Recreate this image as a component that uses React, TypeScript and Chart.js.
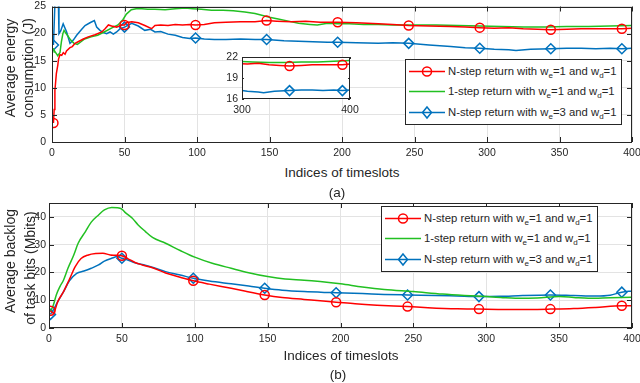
import React, { useEffect, useRef } from "react";
import { Chart, registerables } from "chart.js";
Chart.register(...registerables);

// ---------- data ----------
const MARKER_X = [1, 50, 99, 148, 197, 246, 295, 344, 393];

const xTicksMain = [0, 50, 100, 150, 200, 250, 300, 350, 400];
const yTicksTop = [0, 5, 10, 15, 20, 25];
const yTicksInset = [16, 19, 22];
const xTicksInset = [300, 400];
const yTicksBottom = [0, 10, 20, 30, 40];
const yRangeBottom = [0, 45];

const energyRed = [[1,3.5],[1.5,6.0],[2,9.5],[3,12.6],[4,14.2],[4.5,15.3],[5.5,16.1],[6.7,16.0],[7.8,16.5],[9,16.2],[10,16.8],[12.4,17.4],[14,17.6],[15.9,18.2],[18,18.5],[21.6,19.0],[25,19.4],[29.7,19.8],[34.3,20.3],[36.6,20.9],[38.9,21.6],[41.1,21.4],[44.6,21.2],[48,21.6],[50,21.6],[51.3,22.0],[55,22.2],[59.5,22.0],[64,21.5],[68.7,20.9],[71,21.5],[75,21.6],[80,21.5],[85,21.7],[90,21.6],[95,21.7],[99,21.6],[105,21.7],[112,22.0],[120,22.1],[130,22.2],[140,22.2],[148,22.4],[155,22.3],[165,22.2],[175,22.3],[185,22.1],[197,22.1],[210,22.0],[225,21.8],[235,21.7],[246,21.5],[260,21.4],[275,21.3],[285,21.2],[295,21.1],[305,21.0],[315,21.1],[325,20.9],[335,20.8],[344,20.7],[355,20.8],[365,20.9],[375,20.9],[385,20.9],[393,20.9],[400,21.0]];

const energyGreen = [[1,17.3],[1.5,16.6],[2,16.7],[3,16.3],[4,15.9],[4.4,16.1],[5.5,16.5],[6.5,18.5],[7.5,20.0],[8.3,20.6],[9.5,20.1],[10.6,19.7],[12.9,18.8],[15.2,18.2],[17.5,18.0],[20,18.5],[22.5,19.0],[27,19.4],[31.5,19.7],[36,20.3],[41,21.0],[45.5,21.6],[49,22.6],[51.3,23.6],[54.7,24.4],[58,24.6],[62,24.6],[66,24.5],[71,24.5],[78,24.4],[85,24.6],[92,24.7],[97,24.6],[103,24.5],[110,24.3],[118,24.3],[125,24.2],[133,24.0],[140,23.7],[146,23.3],[150,23.0],[156,22.7],[163,22.3],[170,21.9],[178,21.7],[183,21.6],[190,21.9],[197,21.8],[205,21.8],[215,21.7],[225,21.7],[235,21.6],[250,21.6],[265,21.6],[280,21.5],[295,21.4],[310,21.3],[325,21.2],[340,21.2],[355,21.3],[370,21.3],[385,21.4],[400,21.5]];

const energyBlue = [[1,17.9],[2,25.5],[3,27],[4.4,26],[4.8,20.0],[6,20.5],[7.7,21.8],[10.1,20.3],[12.4,18.2],[14.7,18.8],[17,19.7],[20.5,20.8],[22.8,21.5],[26.2,22.0],[29.2,22.4],[30.8,21.2],[33.1,20.6],[35.4,20.2],[37.7,20.0],[40,20.3],[42.3,19.9],[44.6,20.3],[47,20.9],[50,21.2],[55,21.9],[59.5,21.4],[64,20.6],[68,20.8],[71,20.3],[75,20.4],[80,19.9],[85,19.7],[90,19.3],[95,19.1],[99,19.2],[105,19.0],[112,18.9],[120,18.9],[130,19.0],[140,18.9],[148,18.9],[160,18.7],[170,18.6],[180,18.5],[190,18.4],[197,18.4],[210,18.3],[225,18.2],[235,18.3],[246,18.2],[260,17.9],[275,17.6],[285,17.4],[295,17.3],[305,17.1],[315,17.0],[320,16.9],[330,17.1],[344,17.2],[355,17.3],[365,17.3],[375,17.2],[385,17.3],[393,17.2],[400,17.3]];

const backlogRed = [[1,6.2],[3,5.3],[6,9.5],[10,13.1],[14,17.5],[18,22.1],[22,25.0],[27,26.3],[32,26.8],[37,26.9],[42,26.3],[46,26.2],[50,26.0],[54,25.0],[59,23.6],[64,22.7],[71,21.7],[80,19.8],[90,18.3],[99,17.0],[110,15.8],[125,14.3],[135,13.2],[148,11.9],[160,11.0],[175,10.3],[190,9.6],[197,9.3],[210,8.7],[225,8.2],[246,7.7],[260,7.3],[280,6.9],[295,6.8],[310,6.7],[330,6.7],[344,6.8],[360,7.0],[375,7.4],[393,8.0],[400,8.0]];

const backlogGreen = [[1,5.9],[3,8.3],[5,11.9],[7.5,14.9],[10,17.3],[13,21.5],[17,26.3],[20,30.5],[25,34.7],[29,38.1],[34,40.7],[38,42.5],[43,43.4],[47,43.3],[50,42.8],[52,41.7],[57,39.6],[61,37.2],[66,34.8],[71,32.6],[80,30.5],[90,27.9],[100,25.5],[112,23.3],[125,21.5],[137,19.9],[150,18.5],[162,17.6],[175,17.2],[186,16.7],[200,15.9],[215,14.8],[230,13.9],[250,13.1],[270,12.2],[285,11.7],[300,11.3],[310,11.0],[320,10.7],[335,10.8],[350,11.3],[360,11.0],[370,10.7],[385,10.9],[400,11.1]];

const backlogBlue = [[1,4.9],[3,6.5],[6,9.5],[10,13.1],[14,17.0],[19,19.7],[24,20.5],[29,21.5],[34,22.7],[38,24.1],[43,25.1],[47,25.7],[50,25.1],[54,24.5],[59,23.5],[66,22.6],[72,21.7],[80,20.3],[90,19.1],[99,17.9],[110,16.9],[125,15.9],[137,15.1],[148,14.3],[160,13.6],[175,13.1],[190,12.8],[197,12.7],[215,12.4],[230,12.1],[246,11.9],[265,11.7],[280,11.5],[295,11.3],[310,11.4],[325,11.7],[344,11.9],[360,11.7],[375,11.5],[385,11.8],[393,12.9],[400,13.3]];

const legendPrefix = ["N-step return with ", "1-step return with ", "N-step return with "];
const legendWe = ["1", "1", "3"];
const legendWd = ["1", "1", "1"];

// ---------- styles ----------
const FONT = "'Liberation Sans', Arial, Helvetica, sans-serif";
const AX = "#262626";
const GRID = "#e3e3e3";
const RED = "#ff0000";
const GREEN = "#22c022";
const BLUE = "#0072bd";
const COLORS = [RED, GREEN, BLUE];
const MARKERS = ["circle", "", "rectRot"];

const boxPlugin = {
  id: "mbox",
  beforeDraw(chart: any, _a: any, opts: any) {
    if (!opts || !opts.fill) return;
    const { ctx, chartArea: a } = chart;
    ctx.save();
    ctx.fillStyle = "#fff";
    ctx.fillRect(a.left, a.top, a.right - a.left, a.bottom - a.top);
    ctx.restore();
  },
  afterDatasetsDraw(chart: any, _a: any, opts: any) {
    const { ctx, chartArea: a } = chart;
    const len = (opts && opts.tick) || 5;
    const xs = chart.scales.x;
    const ys = chart.scales.y;
    ctx.save();
    ctx.strokeStyle = AX;
    ctx.lineWidth = 1;
    ctx.beginPath();
    xs.ticks.forEach((t: any) => {
      const p = Math.round(xs.getPixelForValue(t.value)) + 0.5;
      ctx.moveTo(p, a.bottom);
      ctx.lineTo(p, a.bottom - len);
      ctx.moveTo(p, a.top);
      ctx.lineTo(p, a.top + len);
    });
    ys.ticks.forEach((t: any) => {
      const p = Math.round(ys.getPixelForValue(t.value)) + 0.5;
      ctx.moveTo(a.left, p);
      ctx.lineTo(a.left + len, p);
      ctx.moveTo(a.right, p);
      ctx.lineTo(a.right - len, p);
    });
    ctx.stroke();
    ctx.strokeRect(Math.round(a.left) + 0.5, Math.round(a.top) + 0.5, Math.round(a.right - a.left) - 1, Math.round(a.bottom - a.top) - 1);
    ctx.restore();
  },
};

function ds(label: string, data: number[][], idx: number, smooth: boolean) {
  const marker = MARKERS[idx];
  const color = COLORS[idx];
  return {
    label,
    data: data.map(([x, y]) => ({ x, y })),
    borderColor: color,
    borderWidth: 1.5,
    tension: smooth ? 0.3 : 0,
    cubicInterpolationMode: smooth ? "monotone" : "default",
    pointStyle: marker || "circle",
    pointRadius: (c: any) => (marker && c.raw && MARKER_X.includes(c.raw.x) ? (marker === "rectRot" ? 5 : 4.5) : 0),
    pointHoverRadius: 0,
    pointBorderColor: color,
    pointBackgroundColor: "rgba(0,0,0,0)",
    pointBorderWidth: 1.5,
    fill: false,
  };
}

function makeAxis(range: number[], ticks: number[], size: number, padding: number, grid: boolean, fit: (s: any) => void) {
  return {
    type: "linear",
    min: range[0],
    max: range[1],
    ticks: { color: AX, font: { family: FONT, size }, padding, maxRotation: 0, autoSkip: false },
    grid: { display: grid, color: GRID, drawTicks: false, lineWidth: 1 },
    border: { display: false },
    afterBuildTicks(s: any) {
      s.ticks = ticks.map((v) => ({ value: v }));
    },
    afterFit: fit,
  };
}

function makeConfig(opts: {
  sets: any[];
  xRange: number[];
  xTicks: number[];
  yRange: number[];
  yTicks: number[];
  yWidth: number;
  xHeight: number;
  padding: any;
  grid: boolean;
  fill: boolean;
  tickLen: number;
  xPad: number;
  yPad: number;
}) {
  const o = opts;
  return {
    type: "line",
    data: { datasets: o.sets },
    plugins: [boxPlugin],
    options: {
      responsive: false,
      animation: false,
      events: [],
      layout: { padding: o.padding },
      plugins: {
        legend: { display: false },
        tooltip: { enabled: false },
        mbox: { fill: o.fill, tick: o.tickLen },
      },
      scales: {
        x: makeAxis(o.xRange, o.xTicks, 10.5, o.xPad, o.grid, (s: any) => {
          s.height = o.xHeight;
          s.paddingLeft = 0;
          s.paddingRight = 0;
        }),
        y: makeAxis(o.yRange, o.yTicks, 10.5, o.yPad, o.grid, (s: any) => {
          s.width = o.yWidth;
          s.paddingTop = 0;
          s.paddingBottom = 0;
        }),
      },
    },
  } as any;
}

function energySets() {
  return [
    ds("N-step return with we=1 and wd=1", energyRed, 0, false),
    ds("1-step return with we=1 and wd=1", energyGreen, 1, false),
    ds("N-step return with we=3 and wd=1", energyBlue, 2, false),
  ];
}

function backlogSets() {
  return [
    ds("N-step return with we=1 and wd=1", backlogRed, 0, true),
    ds("1-step return with we=1 and wd=1", backlogGreen, 1, true),
    ds("N-step return with we=3 and wd=1", backlogBlue, 2, true),
  ];
}

const subStyle: React.CSSProperties = { fontSize: 8, verticalAlign: "baseline", position: "relative", top: 3 };

function LegendBox({ left, top }: { left: number; top: number }) {
  return (
    <div
      style={{
        position: "absolute",
        left,
        top,
        width: 217,
        height: 66,
        border: `1px solid ${AX}`,
        background: "#fff",
        boxSizing: "border-box",
        fontFamily: FONT,
        fontSize: 11.3,
        color: AX,
      }}
    >
      {legendPrefix.map((p, i) => (
        <div key={i} style={{ position: "absolute", left: 0, top: 0.5 + i * 20.8, width: "100%", height: 21 }}>
          <svg width={40} height={21} style={{ position: "absolute", left: 3, top: 0 }}>
            <line x1={0} y1={10.5} x2={36} y2={10.5} stroke={COLORS[i]} strokeWidth={1.5} />
            {MARKERS[i] === "circle" && (
              <circle cx={18} cy={10.5} r={4.5} fill="none" stroke={COLORS[i]} strokeWidth={1.5} />
            )}
            {MARKERS[i] === "rectRot" && (
              <polygon points="18,5 22.5,10.5 18,16 13.5,10.5" fill="none" stroke={COLORS[i]} strokeWidth={1.5} />
            )}
          </svg>
          <span style={{ position: "absolute", left: 42, top: 0, lineHeight: "20px", whiteSpace: "nowrap" }}>
            {p}w<sub style={subStyle}>e</sub>={legendWe[i]} and w<sub style={subStyle}>d</sub>={legendWd[i]}
          </span>
        </div>
      ))}
    </div>
  );
}

function Label({ x, y, text, rotate, size }: { x: number; y: number; text: string; rotate?: boolean; size?: number }) {
  return (
    <div
      style={{
        position: "absolute",
        left: x,
        top: y,
        transform: `translate(-50%,-50%)${rotate ? " rotate(-90deg)" : ""}`,
        whiteSpace: "nowrap",
        fontFamily: FONT,
        fontSize: size || 13.5,
        color: AX,
        lineHeight: 1,
      }}
    >
      {text}
    </div>
  );
}

export default function App() {
  const topRef = useRef<HTMLCanvasElement>(null);
  const insetRef = useRef<HTMLCanvasElement>(null);
  const botRef = useRef<HTMLCanvasElement>(null);

  useEffect(() => {
    const charts = [
      new Chart(
        topRef.current as HTMLCanvasElement,
        makeConfig({
          sets: energySets(),
          xRange: [0, 400],
          xTicks: xTicksMain,
          yRange: [0, 25],
          yTicks: yTicksTop,
          yWidth: 52,
          xHeight: 23,
          padding: { left: 0, right: 8, top: 4, bottom: 0 },
          grid: true,
          fill: false,
          tickLen: 5,
          xPad: 5,
          yPad: 6,
        })
      ),
      new Chart(
        insetRef.current as HTMLCanvasElement,
        makeConfig({
          sets: energySets(),
          xRange: [300, 400],
          xTicks: xTicksInset,
          yRange: [16, 22],
          yTicks: yTicksInset,
          yWidth: 27,
          xHeight: 21,
          padding: { left: 0, right: 10, top: 7, bottom: 0 },
          grid: false,
          fill: true,
          tickLen: 2,
          xPad: 5,
          yPad: 4,
        })
      ),
      new Chart(
        botRef.current as HTMLCanvasElement,
        makeConfig({
          sets: backlogSets(),
          xRange: [0, 400],
          xTicks: xTicksMain,
          yRange: yRangeBottom,
          yTicks: yTicksBottom,
          yWidth: 49,
          xHeight: 27,
          padding: { left: 0, right: 8, top: 13, bottom: 0 },
          grid: true,
          fill: false,
          tickLen: 5,
          xPad: 5,
          yPad: 3,
        })
      ),
    ];
    return () => charts.forEach((c) => c.destroy());
  }, []);

  return (
    <div
      style={{
        position: "absolute",
        left: 0,
        top: 0,
        width: 640,
        height: 383,
        background: "#fff",
        overflow: "hidden",
      }}
    >
      <canvas ref={topRef} width={640} height={165} style={{ position: "absolute", left: 0, top: 0 }} />
      <canvas ref={insetRef} width={145} height={70} style={{ position: "absolute", left: 215, top: 50 }} />
      <canvas ref={botRef} width={640} height={165} style={{ position: "absolute", left: 0, top: 190 }} />
      <LegendBox left={405} top={59} />
      <LegendBox left={381} top={206} />
      <Label x={10} y={68} text="Average energy" rotate size={14} />
      <Label x={28} y={68} text="consumption (J)" rotate size={14} />
      <Label x={342} y={173} text="Indices of timeslots" />
      <Label x={337} y={193} text="(a)" />
      <Label x={10} y={261} text="Average backlog" rotate size={14} />
      <Label x={30} y={268} text="of task bits (Mbits)" rotate size={14} />
      <Label x={341} y={356} text="Indices of timeslots" />
      <Label x={338} y={375} text="(b)" />
    </div>
  );
}
